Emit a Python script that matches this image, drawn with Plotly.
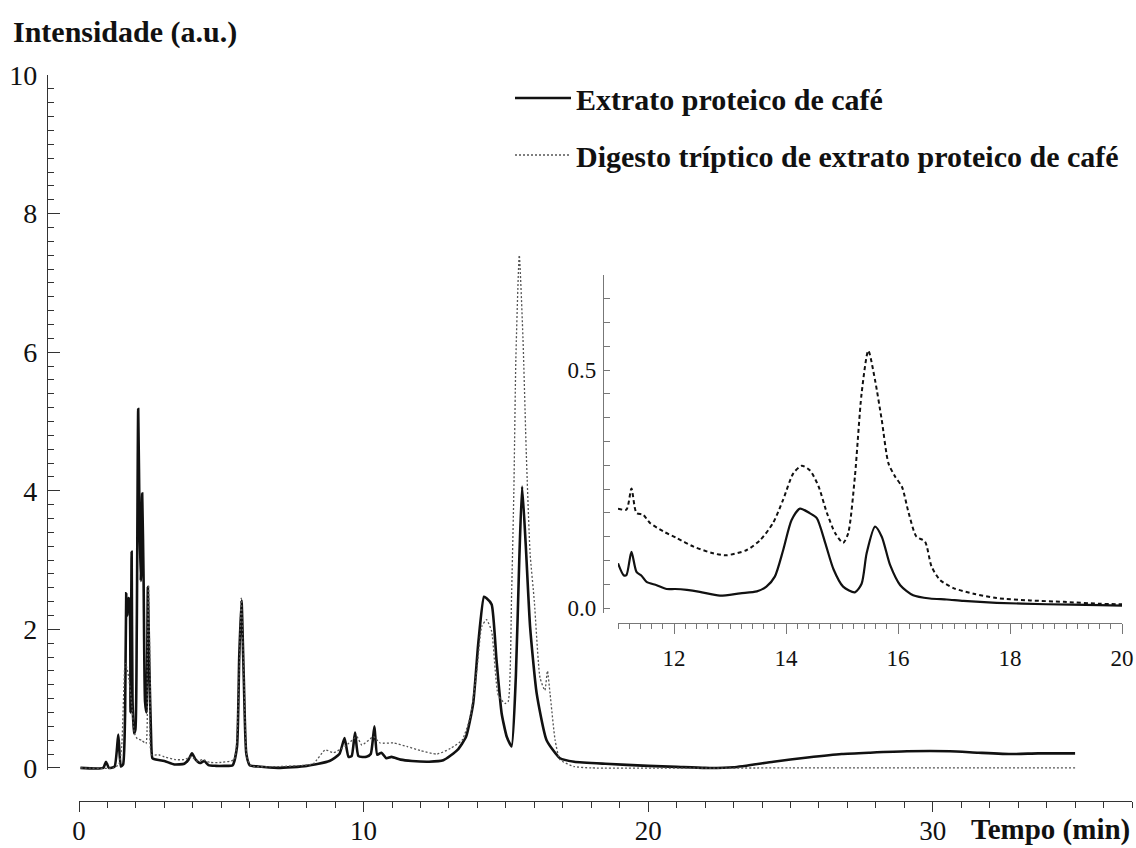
import plotly.graph_objects as go

# ---------------- data ----------------
# Main chromatogram: Extrato proteico de café (solid)
t_extrato = [0.05, 0.85, 0.95, 1.05, 1.25, 1.38, 1.47, 1.55, 1.62, 1.66, 1.70, 1.74, 1.78, 1.81,
             1.85, 1.88, 1.93, 1.98, 2.03, 2.08, 2.13, 2.17, 2.22, 2.27, 2.32, 2.37, 2.42, 2.47,
             2.53, 2.58, 2.7, 3.0, 3.35, 3.7, 3.85, 3.97, 4.1, 4.25, 4.4, 4.55, 4.8, 5.1, 5.4,
             5.55, 5.63, 5.71, 5.79, 5.88, 6.0, 6.3, 7.0, 8.0, 8.8, 9.15, 9.33, 9.47, 9.58, 9.7,
             9.82, 10.1, 10.25, 10.38, 10.48, 10.63, 10.8, 10.98, 11.3, 11.7, 12.3, 12.8, 13.3,
             13.6, 13.85, 14.03, 14.23, 14.32, 14.5, 14.67, 14.85, 15.03, 15.2, 15.35, 15.47,
             15.57, 15.7, 15.85, 16.08, 16.43, 16.9, 17.4, 18.5, 20.0, 21.0, 22.0, 23.0, 24.4,
             25.6, 26.8, 27.8, 29.1, 30.6, 31.6, 32.8, 33.7, 35.0]
i_extrato = [0.0, 0.0, 0.09, 0.0, 0.02, 0.48, 0.02, 0.05, 0.79, 2.52, 2.2, 2.45, 2.4, 0.8,
             3.12, 1.0, 0.5, 0.55, 2.0, 5.18, 3.5, 2.7, 3.96, 2.7, 0.96, 0.8, 2.61, 1.5,
             0.5, 0.14, 0.12, 0.1, 0.05, 0.06, 0.12, 0.21, 0.12, 0.07, 0.1, 0.04, 0.03, 0.03, 0.04,
             0.3, 1.6, 2.42, 1.3, 0.2, 0.04, 0.02, 0.0, 0.03, 0.1, 0.2, 0.43, 0.16, 0.17, 0.51,
             0.17, 0.16, 0.2, 0.6, 0.19, 0.22, 0.14, 0.16, 0.12, 0.1, 0.09, 0.11, 0.26,
             0.45, 0.93, 1.8, 2.47, 2.45, 2.36, 1.56, 0.79, 0.45, 0.31, 1.32, 3.0,
             4.06, 3.2, 2.04, 1.08, 0.4, 0.14, 0.09, 0.06, 0.03, 0.015, 0.0, 0.01, 0.09,
             0.15, 0.2, 0.22, 0.24, 0.24, 0.22, 0.2, 0.21, 0.21]

# Main chromatogram: Digesto tríptico de extrato proteico de café (dotted)
t_digesto = [0.05, 1.2, 1.4, 1.5, 1.58, 1.62, 1.68, 1.75, 1.85, 1.95, 2.05, 2.2, 2.35, 2.4, 2.44,
             2.5, 2.55, 2.8, 3.0, 3.4, 3.7, 3.95, 4.15, 4.35, 4.6, 5.0, 5.45, 5.6, 5.7, 5.8, 5.9,
             6.05, 7.0, 8.0, 8.24, 8.65, 8.94, 9.35, 9.76, 9.94, 10.35, 10.58, 11.05, 11.52, 12.0,
             12.58, 13.05, 13.46, 13.75, 13.98, 14.15, 14.32, 14.5, 14.73, 14.97, 15.08, 15.2,
             15.28, 15.35, 15.47, 15.6, 15.72, 15.85, 16.0, 16.2, 16.37, 16.46, 16.55, 16.73,
             16.9, 17.4, 18.0, 25.0, 35.0]
i_digesto = [0.0, 0.0, 0.05, 0.31, 1.2, 1.51, 1.45, 1.3, 0.93, 0.5, 0.42, 0.4, 0.35, 1.5, 2.64,
             1.2, 0.19, 0.19, 0.16, 0.12, 0.12, 0.16, 0.1, 0.12, 0.08, 0.08, 0.12, 1.0, 2.45, 1.2, 0.15,
             0.03, 0.02, 0.04, 0.06, 0.26, 0.22, 0.31, 0.45, 0.33, 0.45, 0.36, 0.36, 0.31, 0.25,
             0.2, 0.28, 0.4, 0.74, 1.41, 2.04, 2.14, 1.97, 1.05, 0.93, 0.96, 2.5,
             4.0, 5.9, 7.4, 6.2, 4.5, 3.1, 2.4, 1.3, 1.12, 1.4, 1.08, 0.4,
             0.12, 0.02, 0.0, 0.0, 0.0]

# Inset (11–20 min)
t_ins_extrato = [11.0, 11.1, 11.15, 11.24, 11.33, 11.42, 11.51, 11.69, 11.87, 12.02, 12.23, 12.46,
                 12.82, 13.18, 13.48, 13.65, 13.8, 13.95, 14.1, 14.25, 14.43, 14.55, 14.7, 14.85,
                 15.02, 15.23, 15.35, 15.44, 15.59, 15.71, 15.86, 16.04, 16.27, 16.57, 16.87, 17.17,
                 17.76, 18.65, 19.6, 20.0]
i_ins_extrato = [0.094, 0.069, 0.069, 0.118, 0.076, 0.068, 0.055, 0.048, 0.040, 0.040, 0.038, 0.034,
                 0.026, 0.031, 0.035, 0.045, 0.066, 0.122, 0.185, 0.209, 0.199, 0.189, 0.137, 0.081,
                 0.045, 0.033, 0.051, 0.115, 0.171, 0.150, 0.090, 0.048, 0.027, 0.020, 0.018, 0.015,
                 0.011, 0.008, 0.006, 0.005]
t_ins_digesto = [11.0, 11.15, 11.24, 11.33, 11.45, 11.57, 11.81, 12.05, 12.35, 12.7, 12.94, 13.3,
                 13.54, 13.77, 13.95, 14.13, 14.28, 14.43, 14.58, 14.73, 14.88, 15.02, 15.11, 15.23,
                 15.35, 15.47, 15.59, 15.71, 15.83, 15.95, 16.07, 16.19, 16.33, 16.48, 16.6, 16.75,
                 16.99, 17.35, 17.76, 18.36, 18.96, 19.6, 20.0]
i_ins_digesto = [0.209, 0.207, 0.251, 0.200, 0.196, 0.179, 0.161, 0.147, 0.129, 0.115, 0.111, 0.122,
                 0.143, 0.179, 0.228, 0.283, 0.299, 0.289, 0.256, 0.200, 0.157, 0.137, 0.157, 0.276,
                 0.451, 0.541, 0.479, 0.395, 0.304, 0.276, 0.255, 0.200, 0.150, 0.140, 0.087, 0.059,
                 0.042, 0.030, 0.021, 0.016, 0.013, 0.009, 0.008]

name_extrato = "Extrato proteico de café"
name_digesto = "Digesto tríptico de extrato proteico de café"

# ---------------- figure ----------------
SERIF = "Liberation Serif, Times New Roman, serif"
W, H = 1136, 848
ML, MR, MT, MB = 47, 4, 75, 47
PW, PH = W - ML - MR, H - MT - MB


def fx(px):
    return (px - ML) / PW


def fy(py):
    return (H - MB - py) / PH


fig = go.Figure()

fig.add_trace(go.Scatter(
    x=t_extrato, y=i_extrato, mode="lines", name="<b>" + name_extrato + "</b>",
    line=dict(color="#111111", width=2.6, shape="spline", smoothing=0.5), legendgroup="a"))
fig.add_trace(go.Scatter(
    x=t_digesto, y=i_digesto, mode="lines", name="<b>" + name_digesto + "</b>",
    line=dict(color="#555555", width=1.3, dash="2px,2px", shape="spline", smoothing=0.5),
    legendgroup="b"))

fig.add_trace(go.Scatter(
    x=t_ins_extrato, y=i_ins_extrato, mode="lines", xaxis="x2", yaxis="y2",
    line=dict(color="#111111", width=2.2, shape="spline", smoothing=0.7), showlegend=False))
fig.add_trace(go.Scatter(
    x=t_ins_digesto, y=i_ins_digesto, mode="lines", xaxis="x2", yaxis="y2",
    line=dict(color="#111111", width=2.0, dash="4px,3px", shape="spline", smoothing=0.7),
    showlegend=False))

axis_main_color = "#333333"
inset_color = "#777777"

fig.update_layout(
    width=W, height=H,
    margin=dict(l=ML, r=MR, t=MT, b=MB, autoexpand=False),
    paper_bgcolor="white", plot_bgcolor="rgba(0,0,0,0)",
    font=dict(family=SERIF, color="#111111"),
    showlegend=True,
    legend=dict(
        x=fx(510), y=fy(72), xanchor="left", yanchor="top",
        font=dict(family=SERIF, size=30, color="#111111"),
        bgcolor="rgba(0,0,0,0)", itemwidth=56, tracegroupgap=15,
        traceorder="grouped"),
    xaxis=dict(
        domain=[fx(79), 1.0], range=[0, 37], anchor="free", position=0,
        showline=True, linecolor=axis_main_color, linewidth=1.3,
        showgrid=False, zeroline=False,
        ticks="outside", ticklen=10, tickwidth=1.3, tickcolor=axis_main_color,
        tickvals=[0, 10, 20, 30],
        minor=dict(dtick=1, tick0=0, ticks="outside", ticklen=6, tickwidth=1.2,
                   tickcolor=axis_main_color, showgrid=False),
        tickfont=dict(family=SERIF, size=27, color="#111111"),
        ticklabelstandoff=-5),
    yaxis=dict(
        domain=[fy(770), 1.0], range=[-0.03, 10], anchor="free", position=0,
        showline=True, linecolor=axis_main_color, linewidth=1.3,
        showgrid=False, zeroline=False,
        tickvals=[0, 2, 4, 6, 8, 10], ticks="inside", ticklen=12, tickwidth=1.3,
        tickcolor=axis_main_color,
        minor=dict(dtick=0.2, tick0=0, ticks="inside", ticklen=6, tickwidth=1.2,
                   tickcolor=axis_main_color, showgrid=False),
        tickfont=dict(family=SERIF, size=28, color="#111111"),
        ticklabelstandoff=4),
    xaxis2=dict(
        domain=[fx(618), fx(1122)], range=[11, 20], anchor="free", position=fy(623),
        showline=True, linecolor=inset_color, linewidth=1.2,
        showgrid=False, zeroline=False,
        tickvals=[12, 14, 16, 18, 20], ticks="outside", ticklen=10, tickwidth=1.2,
        tickcolor=inset_color,
        minor=dict(dtick=0.2, tick0=0, ticks="outside", ticklen=5, tickwidth=1.1,
                   tickcolor=inset_color, showgrid=False),
        tickfont=dict(family=SERIF, size=23, color="#111111"),
        ticklabelstandoff=4),
    yaxis2=dict(
        domain=[fy(612.8), fy(275)], range=[-0.01, 0.7], anchor="free", position=fx(603),
        showline=True, linecolor=inset_color, linewidth=1.2,
        showgrid=False, zeroline=False,
        tickvals=[0, 0.5], ticktext=["0.0", "0.5"], ticks="inside", ticklen=6, tickwidth=1.2,
        tickcolor=inset_color,
        minor=dict(dtick=0.05, tick0=0, ticks="inside", ticklen=6, tickwidth=1.1,
                   tickcolor=inset_color, showgrid=False),
        tickfont=dict(family=SERIF, size=23, color="#111111"),
        ticklabelstandoff=2),
    annotations=[
        dict(text="<b>Intensidade (a.u.)</b>", xref="paper", yref="paper",
             x=fx(11), y=fy(32), xanchor="left", yanchor="middle", showarrow=False,
             font=dict(family=SERIF, size=30, color="#111111")),
        dict(text="<b>Tempo (min)</b>", xref="paper", yref="paper",
             x=fx(1132), y=fy(830), xanchor="right", yanchor="middle", showarrow=False,
             font=dict(family=SERIF, size=29, color="#111111")),
    ],
)

fig.write_html("out.html", config={"displayModeBar": False},
               post_script="document.body.style.margin='0';")
